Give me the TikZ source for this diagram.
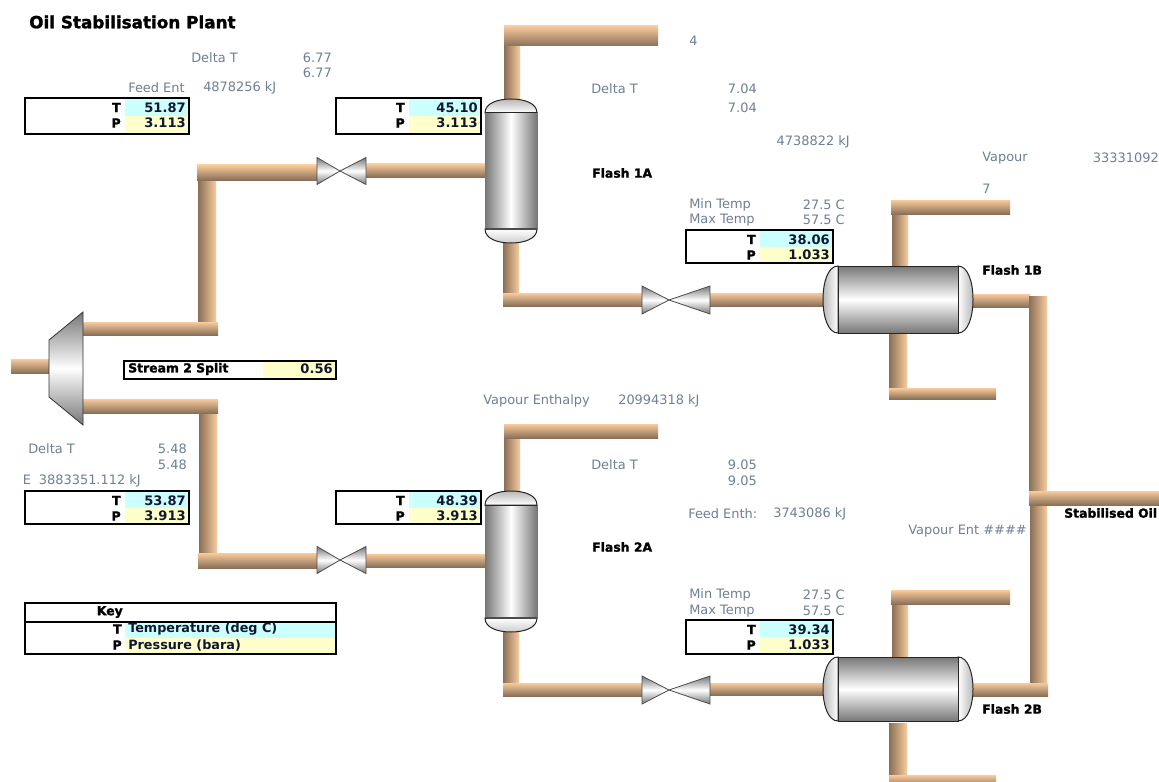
\documentclass[tikz,border=0pt]{standalone}
\usepackage{fontspec}
\setmainfont{DejaVu Sans}
\newfontfamily\heavyfont{DejaVu Sans}[BoldFeatures={FakeBold=1.6}]
\definecolor{pipeL}{HTML}{F9CB9C}
\definecolor{pipeD}{HTML}{8A7058}
\definecolor{cellC}{HTML}{CCFFFF}
\definecolor{cellY}{HTML}{FFFFCC}
\definecolor{valT}{HTML}{101830}
\definecolor{dimT}{HTML}{6F7F96}
\definecolor{steelD}{HTML}{777777}
\definecolor{steelM}{HTML}{B8B8B8}
\tikzset{
  x=0.75pt,y=-0.75pt,
  hpipe/.style={top color=pipeL,bottom color=pipeD,draw=none},
  vpipe/.style={left color=pipeD,right color=pipeL,draw=none},
  vessel/.style={draw=black!85,line width=0.75pt},
  valveleaf/.style={draw=black!70,line width=0.6pt,top color=steelD,bottom color=steelD,middle color=white},
  boxline/.style={draw=black,line width=1.6pt},
  heading/.style={font=\heavyfont\bfseries\fontsize{12.6}{14}\selectfont,text=black,inner sep=0pt},
  tag/.style={font=\heavyfont\bfseries\fontsize{9.3}{11}\selectfont,text=black,inner sep=0pt},
  axisl/.style={font=\heavyfont\bfseries\fontsize{9.5}{11}\selectfont,text=black,inner sep=0pt,anchor=east},
  val/.style={font=\bfseries\fontsize{9.8}{11}\selectfont,text=valT,inner sep=0pt,anchor=east},
  keytext/.style={font=\bfseries\fontsize{9.6}{11}\selectfont,text=valT,inner sep=0pt,anchor=west},
  dim/.style={font=\fontsize{9.7}{11}\selectfont,text=dimT,inner sep=0pt,anchor=west},
  dimr/.style={font=\fontsize{9.7}{11}\selectfont,text=dimT,inner sep=0pt,anchor=east},
}
% #1 name, #2 left, #3 colour start, #4 right, #5 top, #6 bottom, #7 T, #8 P
\newcommand{\datatable}[8]{%
  \fill[cellC] (#3,#5) rectangle (#4,{(#5+#6)/2});
  \fill[cellY] (#3,{(#5+#6)/2}) rectangle (#4,#6);
  \draw[boxline] (#2,#5) rectangle (#4,#6);
  \node[axisl] (#1T) at ({#3-4},{#5+9.5}) {T};
  \node[axisl] (#1P) at ({#3-4},{#5+25}) {P};
  \node[val] (#1Tv) at ({#4-3},{#5+9.5}) {#7};
  \node[val] (#1Pv) at ({#4-3},{#5+25}) {#8};
}
% #1 centre x, #2 centre y, #3 left extent, #4 right extent, #5 half height
\newcommand{\valveshape}[5]{%
  \path[valveleaf] (#1,#2) -- ({#1-#3},{#2-#5}) -- ({#1-#3},{#2+#5}) -- cycle;
  \path[valveleaf] (#1,#2) -- ({#1+#4},{#2-#5}) -- ({#1+#4},{#2+#5}) -- cycle;
}
% column: #1 top, #2 bottom
\newcommand{\columnshape}[2]{%
  \path[vessel,top color=steelM,bottom color=white] (485,{#1+14}) .. controls (485,{#1+4}) and (498,#1) .. (511,#1) .. controls (524,#1) and (537,{#1+4}) .. (537,{#1+14}) -- cycle;
  \path[vessel,top color=white,bottom color=steelM!70!white] (485,{#2-14}) .. controls (485,{#2-4}) and (498,#2) .. (511,#2) .. controls (524,#2) and (537,{#2-4}) .. (537,{#2-14}) -- cycle;
  \path[draw=steelD,line width=0.75pt,left color=steelD,right color=steelD,middle color=white] (485,{#1+14}) rectangle (537,{#2-14});
  \draw[black!85,line width=0.75pt] (485,{#1+14}) -- (537,{#1+14});
  \draw[black!70,line width=0.9pt] (485,{#2-14}) -- (537,{#2-14});
}
% drum: #1 top, #2 bottom
\newcommand{\drumshape}[2]{%
  \path[vessel,left color=steelM,right color=white] (838,#1) .. controls (828,#1) and (823,{#1+16}) .. (823,{(#1+#2)/2}) .. controls (823,{#2-16}) and (828,#2) .. (838,#2) -- cycle;
  \path[vessel,left color=white,right color=steelM] (958,#1) .. controls (968,#1) and (973,{#1+16}) .. (973,{(#1+#2)/2}) .. controls (973,{#2-16}) and (968,#2) .. (958,#2) -- cycle;
  \path[vessel,top color=steelD,bottom color=steelD,middle color=white] (838,#1) rectangle (958,#2);
}
\begin{document}
\begin{tikzpicture}
\useasboundingbox (0,0) rectangle (1159,781);
\fill[white] (0,0) rectangle (1159,781);

% feed
\fill[hpipe] (11,359) rectangle (49,373);
% upper branch
\fill[vpipe] (198,178) rectangle (216,323);
\fill[hpipe] (197,165) rectangle (317,180);
\fill[hpipe] (83,322) rectangle (218,335);
\fill[hpipe] (366,164) rectangle (486,177);
% lower branch
\fill[vpipe] (199,412) rectangle (217,555);
\fill[hpipe] (83,399) rectangle (218,413);
\fill[hpipe] (198,553) rectangle (317,568);
\fill[hpipe] (366,554) rectangle (486,567);
% column 1A piping
\fill[vpipe] (504,45) rectangle (520,100);
\fill[hpipe] (504,26) rectangle (658,46);
\fill[vpipe] (503,242) rectangle (519,295);
\fill[hpipe] (503,293) rectangle (642,306);
\fill[hpipe] (710,293) rectangle (824,306);
% column 2A piping
\fill[vpipe] (504,437) rectangle (520,493);
\fill[hpipe] (504,424) rectangle (658,438);
\fill[vpipe] (503,631) rectangle (519,685);
\fill[hpipe] (503,683) rectangle (642,696);
\fill[hpipe] (710,683) rectangle (824,695);
% drum 1B piping
\fill[vpipe] (892,213) rectangle (908,268);
\fill[hpipe] (891,200) rectangle (1010,214);
\fill[vpipe] (889,333) rectangle (907,389);
\fill[hpipe] (889,388) rectangle (996,399);
\fill[hpipe] (969,294) rectangle (1030,307);
% drum 2B piping
\fill[vpipe] (892,603) rectangle (908,659);
\fill[hpipe] (891,590) rectangle (1010,604);
\fill[vpipe] (889,723) rectangle (907,776);
\begin{scope}
\clip (880,770) rectangle (1000,781);
\fill[hpipe] (889,775) rectangle (996,787);
\end{scope}
% collector
\fill[vpipe] (1029,296) rectangle (1047,492);
\fill[vpipe] (1030,504) rectangle (1047,684);
\fill[hpipe] (1029,491) rectangle (1159,505);
\fill[hpipe] (970,683) rectangle (1048,696);

% splitter
\path[draw=black!80,line width=0.6pt,top color=steelD,bottom color=steelD,middle color=white] (49,340) -- (83,312) -- (83,425) -- (49,397) -- cycle;

% valves
\valveshape{340}{171}{23}{26}{13.5}
\valveshape{340}{560}{23}{26}{13.5}
\valveshape{669}{300}{27}{41}{14}
\valveshape{669}{690}{27}{41}{14}

% vessels
\columnshape{99}{243}
\columnshape{491}{632}
\drumshape{266}{333}
\drumshape{657}{721}

% tables
\datatable{feedA}{25}{125}{189}{98}{134}{51.87}{3.113}
\datatable{inA}{336}{409}{481}{98}{134}{45.10}{3.113}
\datatable{inB}{686}{760}{833}{230}{263}{38.06}{1.033}
\datatable{feedC}{25}{125}{189}{491}{524}{53.87}{3.913}
\datatable{inC}{336}{409}{481}{491}{524}{48.39}{3.913}
\datatable{inD}{686}{760}{833}{620}{654}{39.34}{1.033}

% split box
\fill[cellY] (263,361) rectangle (336,379);
\draw[boxline] (124,361) rectangle (336,379);
\node[tag,anchor=west] (splitl) at (128,369) {Stream 2 Split};
\node[val] (splitv) at (333,369) {0.56};

% key
\fill[cellC] (125,622) rectangle (336,638);
\fill[cellY] (125,638) rectangle (336,653);
\draw[boxline] (25,603) rectangle (336,654);
\draw[black,line width=1.2pt] (25,622) -- (336,622);
\node[tag,anchor=east] (keyh) at (123,612) {Key};
\node[axisl] (keyT) at (122,629) {T};
\node[axisl] (keyP) at (122,645) {P};
\node[keytext] (keyTt) at (128,629) {Temperature (deg C)};
\node[keytext] (keyPt) at (128,645) {Pressure (bara)};

% headings
\node[heading,anchor=west] (title) at (29,22) {Oil Stabilisation Plant};
\node[tag,anchor=west] (f1a) at (592,173) {Flash 1A};
\node[tag,anchor=west] (f1b) at (982,270) {Flash 1B};
\node[tag,anchor=west] (f2a) at (592,547) {Flash 2A};
\node[tag,anchor=west] (f2b) at (982,709) {Flash 2B};
\node[tag,anchor=west] (prod) at (1064,513) {Stabilised Oil};

% dim annotations
\node[dim] (d1) at (191,58) {Delta T};
\node[dimr] (d1a) at (332,58) {6.77};
\node[dimr] (d1b) at (332,73) {6.77};
\node[dim] (d2) at (128,88) {Feed Ent};
\node[dim] (d2v) at (203,88) {4878256 kJ};
\node[dim] (d3) at (689,41) {4};
\node[dim] (d4) at (591,89) {Delta T};
\node[dimr] (d4a) at (757,89) {7.04};
\node[dimr] (d4b) at (757,108) {7.04};
\node[dimr] (d5) at (850,142) {4738822 kJ};
\node[dim] (d6) at (982,158) {Vapour};
\node[dimr] (d6v) at (1159,158) {33331092};
\node[dim] (d7) at (982,189) {7};
\node[dim] (d8) at (689,205) {Min Temp};
\node[dimr] (d8v) at (845,205) {27.5 C};
\node[dim] (d9) at (689,220) {Max Temp};
\node[dimr] (d9v) at (845,220) {57.5 C};
\node[dim] (d10) at (28,449) {Delta T};
\node[dimr] (d10a) at (187,449) {5.48};
\node[dimr] (d10b) at (187,465) {5.48};
\node[dimr] (d11) at (141,481) {E\hspace{6pt}3883351.112 kJ};
\node[dim] (d12) at (483,401) {Vapour Enthalpy};
\node[dim] (d12v) at (618,401) {20994318 kJ};
\node[dim] (d13) at (591,465) {Delta T};
\node[dimr] (d13a) at (757,465) {9.05};
\node[dimr] (d13b) at (757,481) {9.05};
\node[dim] (d14) at (688,514) {Feed Enth:};
\node[dim] (d14v) at (773,514) {3743086 kJ};
\node[dim] (d15) at (908,531) {Vapour Ent \#\#\#\#};
\node[dim] (d16) at (689,595) {Min Temp};
\node[dimr] (d16v) at (845,595) {27.5 C};
\node[dim] (d17) at (689,611) {Max Temp};
\node[dimr] (d17v) at (845,611) {57.5 C};
\end{tikzpicture}
\end{document}
